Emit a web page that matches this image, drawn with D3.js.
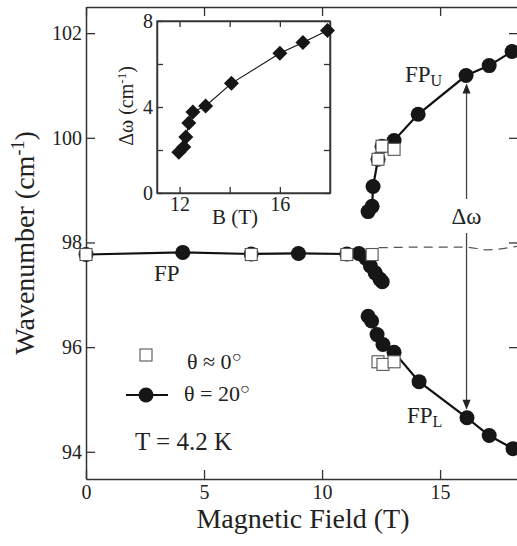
<!DOCTYPE html>
<html>
<head>
<meta charset="utf-8">
<script src="https://cdn.jsdelivr.net/npm/d3@7"></script>
<style>
  body { margin: 0; background: #fff; }
  svg { display: block; }
  svg text { font-family: "Liberation Serif", "Times New Roman", Times, serif; fill: #222; }
</style>
</head>
<body>
<div id="chart"></div>
<script>
//////////////// data ////////////////

// theta = 20 deg, single FP mode below the splitting
const flatB = [0, 4.1, 7.0, 9.0, 11.05, 11.56, 11.85, 12.05, 12.25, 12.45, 12.55];
const flatW = [97.77, 97.81, 97.78, 97.79, 97.78, 97.79, 97.7, 97.55, 97.42, 97.3, 97.25];

// theta = 20 deg, upper branch FP_U
const upB = [11.95, 12.12, 12.16, 12.37, 12.54, 13.05, 14.07, 16.10, 17.08, 18.05];
const upW = [98.59, 98.69, 99.07, 99.59, 99.84, 99.95, 100.45, 101.19, 101.38, 101.65];

// theta = 20 deg, lower branch FP_L
const loB = [11.95, 12.1, 12.33, 12.58, 13.05, 14.11, 16.14, 17.08, 18.09];
const loW = [96.59, 96.5, 96.24, 96.05, 95.90, 95.34, 94.65, 94.31, 94.06];

// theta ~ 0 deg (open squares)
const sqB = [0, 7.0, 11.05, 12.12, 12.37, 12.54, 13.05, 12.37, 12.58, 13.05];
const sqW = [97.77, 97.77, 97.77, 97.77, 99.59, 99.84, 99.78, 95.72, 95.67, 95.72];

// dashed guide line
const dashB = [12.4, 14.0, 16.1, 17.0, 18.3];
const dashW = [97.9, 97.91, 97.91, 97.86, 97.93];

// inset: splitting vs field
const insetB = [11.97, 12.17, 12.25, 12.37, 12.53, 13.04, 14.07, 16.0, 16.92, 17.9];
const insetD = [1.9, 2.14, 2.6, 3.26, 3.77, 4.05, 5.1, 6.5, 7.0, 7.56];

const xTicks = [0, 5, 10, 15];
const yTicks = [94, 96, 98, 100, 102];
const ixTicks = [12, 14, 16];
const iyTicks = [0, 2, 4, 6, 8];
const iyLabels = [0, 4, 8];

//////////////// setup ////////////////
const W = 517, H = 546;
const svg = d3.select("#chart").append("svg").attr("width", W).attr("height", H);

const x = d3.scaleLinear().domain([0, 18.3]).range([86, 518]);
const y = d3.scaleLinear().domain([93.48, 102.5]).range([479, 7]);

const AX = "#333";
const zip = (a, b) => a.map((v, i) => [v, b[i]]);

function styleAxis(g) {
  g.attr("font-family", null);
  g.selectAll("path.domain").attr("stroke", AX).attr("stroke-width", 1.5);
  g.selectAll(".tick line").attr("stroke", AX).attr("stroke-width", 1.3);
  g.selectAll(".tick text").attr("fill", "#222");
}

//////////////// main axes ////////////////
svg.append("g").attr("transform", "translate(0,479)")
  .call(d3.axisBottom(x).tickValues(xTicks).tickSize(-9).tickSizeOuter(0).tickPadding(6))
  .call(styleAxis).attr("font-size", 20);
svg.append("g").attr("transform", "translate(0,7)")
  .call(d3.axisTop(x).tickValues(xTicks).tickSize(-9).tickSizeOuter(0).tickFormat(""))
  .call(styleAxis);
svg.append("g").attr("transform", "translate(86,0)")
  .call(d3.axisLeft(y).tickValues(yTicks).tickSize(-9).tickSizeOuter(0).tickPadding(4))
  .call(styleAxis).attr("font-size", 20);
svg.append("g").attr("transform", "translate(518,0)")
  .call(d3.axisRight(y).tickValues(yTicks).tickSize(-9).tickSizeOuter(0).tickFormat(""))
  .call(styleAxis);

svg.append("text").attr("x", 303).attr("y", 528).attr("text-anchor", "middle")
  .attr("font-size", 28).text("Magnetic Field (T)");
svg.append("text").attr("transform", "translate(34,243) rotate(-90)").attr("text-anchor", "middle")
  .attr("font-size", 28)
  .call(t => t.append("tspan").text("Wavenumber (cm"))
  .call(t => t.append("tspan").attr("font-size", 18).attr("dy", -10).text("-1"))
  .call(t => t.append("tspan").attr("dy", 10).text(")"));

//////////////// data ////////////////
const line = d3.line().x(d => x(d[0])).y(d => y(d[1]));

svg.append("path").datum(zip(dashB, dashW)).attr("d", d3.line().curve(d3.curveMonotoneX).x(d => x(d[0])).y(d => y(d[1])))
  .attr("fill", "none").attr("stroke", "#555").attr("stroke-width", 1.2).attr("stroke-dasharray", "9,6");

// arrow for delta omega
const ax = x(16.12);
svg.append("line").attr("x1", ax).attr("x2", ax).attr("y1", y(101.19) + 14).attr("y2", 199)
  .attr("stroke", "#444").attr("stroke-width", 1.3);
svg.append("line").attr("x1", ax).attr("x2", ax).attr("y1", 233).attr("y2", y(94.65) - 14)
  .attr("stroke", "#444").attr("stroke-width", 1.3);
svg.append("path").attr("d", `M${ax},${y(101.19) + 8} l-4,10 l8,0 z`).attr("fill", "#222");
svg.append("path").attr("d", `M${ax},${y(94.65) - 8} l-4,-10 l8,0 z`).attr("fill", "#222");
svg.append("text").attr("x", ax).attr("y", 224).attr("text-anchor", "middle").attr("font-size", 23).text("Δω");

[[flatB, flatW], [upB, upW], [loB, loW]].forEach(([b, w]) => {
  svg.append("path").datum(zip(b, w)).attr("d", line)
    .attr("fill", "none").attr("stroke", "#111").attr("stroke-width", 2.2);
  svg.append("g").selectAll("circle").data(zip(b, w)).join("circle")
    .attr("cx", d => x(d[0])).attr("cy", d => y(d[1])).attr("r", 7.5).attr("fill", "#161616");
});

svg.append("g").selectAll("rect").data(zip(sqB, sqW)).join("rect")
  .attr("x", d => x(d[0]) - 6).attr("y", d => y(d[1]) - 6).attr("width", 12).attr("height", 12)
  .attr("fill", "#fff").attr("stroke", "#555").attr("stroke-width", 1.1);

// branch labels
svg.append("text").attr("x", 154).attr("y", 281).attr("font-size", 23).text("FP");
svg.append("text").attr("x", 405).attr("y", 82).attr("font-size", 23)
  .call(t => t.append("tspan").text("FP"))
  .call(t => t.append("tspan").attr("font-size", 16).attr("dy", 4).text("U"));
svg.append("text").attr("x", 407).attr("y", 423).attr("font-size", 23)
  .call(t => t.append("tspan").text("FP"))
  .call(t => t.append("tspan").attr("font-size", 16).attr("dy", 4).text("L"));

//////////////// legend ////////////////
svg.append("rect").attr("x", 140).attr("y", 349).attr("width", 12).attr("height", 12)
  .attr("fill", "#fff").attr("stroke", "#555").attr("stroke-width", 1.1);
svg.append("text").attr("x", 187).attr("y", 369).attr("font-size", 22)
  .call(t => t.append("tspan").text("θ ≈ 0"))
  .call(t => t.append("tspan").attr("font-size", 16).attr("dy", -7).text("○"));
svg.append("line").attr("x1", 126).attr("x2", 168).attr("y1", 395).attr("y2", 395)
  .attr("stroke", "#111").attr("stroke-width", 2.2);
svg.append("circle").attr("cx", 146).attr("cy", 395).attr("r", 7.5).attr("fill", "#161616");
svg.append("text").attr("x", 184).attr("y", 401).attr("font-size", 22)
  .call(t => t.append("tspan").text("θ = 20"))
  .call(t => t.append("tspan").attr("font-size", 16).attr("dy", -7).text("○"));
svg.append("text").attr("x", 135).attr("y", 450).attr("font-size", 25).text("T = 4.2 K");

//////////////// inset ////////////////
const ix = d3.scaleLinear().domain([11.1, 18.0]).range([157, 330]);
const iy = d3.scaleLinear().domain([0, 8]).range([193, 21]);

svg.append("rect").attr("x", 157).attr("y", 21).attr("width", 173).attr("height", 172)
  .attr("fill", "#fff").attr("stroke", AX).attr("stroke-width", 1.3);

svg.append("g").attr("transform", "translate(0,193)")
  .call(d3.axisBottom(ix).tickValues(ixTicks).tickSize(-6).tickSizeOuter(0).tickPadding(4)
    .tickFormat(d => (d === 14 ? "" : d)))
  .call(styleAxis).attr("font-size", 20);
svg.append("g").attr("transform", "translate(0,21)")
  .call(d3.axisTop(ix).tickValues(ixTicks).tickSize(-6).tickSizeOuter(0).tickFormat(""))
  .call(styleAxis);
svg.append("g").attr("transform", "translate(157,0)")
  .call(d3.axisLeft(iy).tickValues(iyTicks).tickSize(-6).tickSizeOuter(0).tickPadding(4)
    .tickFormat(d => (iyLabels.includes(d) ? d : "")))
  .call(styleAxis).attr("font-size", 20);
svg.append("g").attr("transform", "translate(330,0)")
  .call(d3.axisRight(iy).tickValues(iyTicks).tickSize(-6).tickSizeOuter(0).tickFormat(""))
  .call(styleAxis);

svg.append("text").attr("x", 235).attr("y", 224).attr("text-anchor", "middle").attr("font-size", 21).text("B (T)");
svg.append("text").attr("transform", "translate(133,106) rotate(-90)").attr("text-anchor", "middle")
  .attr("font-size", 20)
  .call(t => t.append("tspan").text("Δω (cm"))
  .call(t => t.append("tspan").attr("font-size", 13).attr("dy", -7).text("-1"))
  .call(t => t.append("tspan").attr("dy", 7).text(")"));

svg.append("path").datum(zip(insetB, insetD))
  .attr("d", d3.line().x(d => ix(d[0])).y(d => iy(d[1])))
  .attr("fill", "none").attr("stroke", "#111").attr("stroke-width", 1.1);
svg.append("g").selectAll("path.dia").data(zip(insetB, insetD)).join("path")
  .attr("class", "dia")
  .attr("d", d => `M${ix(d[0])},${iy(d[1]) - 7.5} l7.5,7.5 l-7.5,7.5 l-7.5,-7.5 z`)
  .attr("fill", "#161616");
</script>
</body>
</html>
